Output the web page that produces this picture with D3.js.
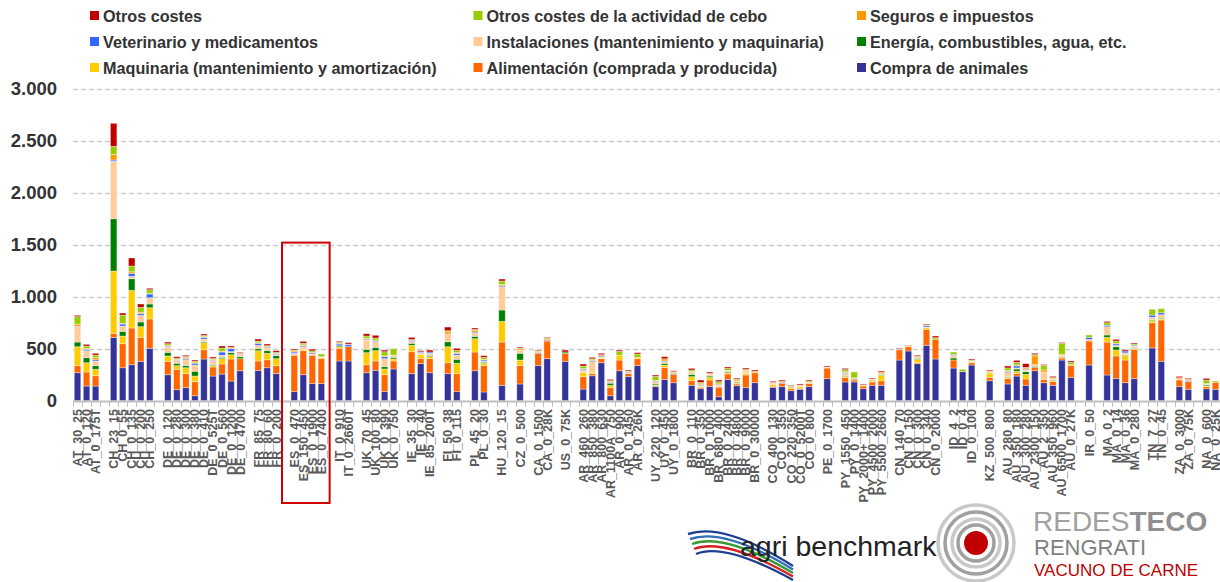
<!DOCTYPE html>
<html>
<head>
<meta charset="utf-8">
<script src="https://cdn.jsdelivr.net/npm/d3@7"></script>
<style>
body { margin: 0; background: #fff; }
svg text { font-family: "Liberation Sans", Arial, sans-serif; }
</style>
</head>
<body>
<svg id="chart" width="1220" height="582"></svg>
<script>
// explotaciones tipo (un hueco entre paises)
var categories = ["AT_30_25","AT_0_120","AT_0_175T",
  "CH_23_15","CH_0_55","CH_0_135","CH_0_200","CH_0_250",
  "DE_0_120","DE_0_280","DE_0_300","DE_0_380","DE_0_410","DE_0_525T","DE_0_560","DE_0_1200","DE_0_4700",
  "FR_85_75","FR_80_60","FR_0_200",
  "ES_0_470","ES_150_450","ES_0_1900","ES_0_7400",
  "IT_0_910","IT_0_2660T",
  "UK_70_45","UK_100_80","UK_0_390","UK_0_750",
  "IE_35_30","IE_0_40","IE_85_200T",
  "FI_50_38","FI_0_115",
  "PL_45_20","PL_0_30",
  "HU_120_15","CZ_0_500",
  "CA_0_1500","CA_0_28K","US_0_75K",
  "AR_460_260","AR_850_380","AR_800_630","AR_1100A_750","AR_0_900","AR_0_1450","AR_0_26K",
  "UY_220_120","UY_0_450","UY_0_1800",
  "BR_0_110","BR_0_350","BR_0_1000","BR_680_400","BR_0_2400","BR_0_4800","BR_0_9000","BR_0_30000",
  "CO_400_130","CO_0_350","CO_220_350","CO_0_5200T","CO_0_800",
  "PE_0_1700",
  "PY_1550_450","PY_0_1400","PY_2000+_1400","PY_4500_2000","PY_5500_2660",
  "CN_140_70","CN_0_150","CN_0_300","CN_0_340","CN_0_2000",
  "ID_4_2","ID_0_4","ID_0_100","KZ_500_800",
  "AU_280_80","AU_350_180","AU_300_280","AU_2300_150","AU_2_350","AU_350_960","AU_6500_1700","AU_0_27K",
  "IR_0_50","MA_0_2","MA_0_14","MA_0_36","MA_0_280",
  "TN_7_27","TN_0_45","ZA_0_3000","ZA_0_75K","NA_0_600","NA_0_25K"];

var compra = [269,141,141, 609,317,346,379,504, 250,106,125,48,401,237,256,189,288, 292,317,260,
  87,250,164,164, 382,382, 269,292,87,305, 260,356,269, 260,87, 288,84, 148,161, 337,404,379,
  112,240,365,48,288,231,337, 135,205,173, 148,115,138,38,205,144,125,173, 129,135,96,110,135, 212,
  180,180,115,148,148, 391,478,356,533,401, 314,279,343,192,
  161,237,148,288,173,148,391,225, 343,247,215,173,212, 507,379,135,110,115,110];
var alimentacion = [68,135,99, 39,231,353,230,282, 129,196,135,135,89,87,97,212,116, 90,77,77,
  350,231,273,240, 122,137, 77,90,163,77, 211,48,135, 105,173, 180,253, 416,179, 119,170,77,
  119,20,39,77,103,32,67, 10,116,80, 44,14,61,91,52,17,122,96, 10,32,19,10,32, 102,
  45,19,26,32,44, 99,41,10,153,189, 77,0,22,33,
  51,26,61,33,32,38,19,112, 231,317,215,218,282, 243,397,64,73,20,67];
var maquinaria = [182,89,62, 599,74,362,103,108, 51,35,57,54,68,15,51,41,0, 99,62,67,
  0,13,0,10, 15,0, 116,99,55,20, 62,38,20, 154,100, 128,23, 199,51, 0,0,0,
  42,15,8,23,46,0,13, 5,22,0, 39,8,26,0,12,10,16,0, 19,0,14,15,0, 0,
  10,0,6,10,52, 0,0,32,16,0, 0,0,8,41,
  12,20,44,0,0,10,6,0, 0,45,57,46,10, 20,10,0,0,8,0];
var energia = [45,49,35, 503,45,112,45,36, 35,23,20,46,10,10,13,20,19, 19,25,29,
  0,0,0,0, 10,0, 32,32,22,15, 19,0,12, 48,38, 23,10, 109,65, 0,0,12,
  0,0,0,19,0,0,0, 11,17,0, 22,0,12,5,10,8,0,0, 0,0,6,0,0, 0,
  8,8,0,6,8, 0,0,10,0,0, 20,0,0,0,
  6,22,26,10,0,6,6,0, 0,23,32,5,6, 8,8,0,0,10,0];
var instalaciones = [147,67,45, 552,51,23,64,60, 51,28,57,60,25,29,20,10,19, 33,26,10,
  19,25,12,9, 0,0, 90,54,77,22, 19,20,20, 74,41, 29,10, 224,31, 0,0,0,
  20,100,10,0,0,8,0, 15,15,0, 20,10,20,17,12,10,19,0, 10,0,0,8,10, 10,
  20,13,0,8,8, 0,0,12,6,0, 25,0,10,12,
  40,10,16,15,71,10,14,0, 15,79,12,18,15, 25,33,12,0,12,0];
var veterinario = [5,13,12, 12,19,29,16,36, 8,5,10,17,16,8,31,28,5, 19,8,8,
  12,10,10,0, 16,19, 8,8,19,0, 10,8,12, 0,15, 10,11, 10,0, 8,8,0,
  10,10,10,8,0,6,0, 8,8,8, 0,8,0,6,0,0,0,0, 0,10,0,0,0, 0,
  8,0,0,0,0, 5,0,0,13,0, 8,0,0,0,
  10,20,8,0,0,0,0,0, 20,14,15,18,8, 20,19,0,8,0,0];
var seguros = [20,8,20, 55,8,15,13,8, 8,5,13,5,8,10,8,8,5, 8,6,6,
  10,8,5,0, 8,6, 8,8,8,0, 8,0,0, 20,10, 15,8, 12,12, 8,11,0,
  8,8,10,10,0,8,0, 10,20,10, 8,8,8,6,0,10,8,8, 8,12,0,0,0, 0,
  10,0,6,6,15, 5,6,7,8,0, 0,0,0,8,
  10,8,12,85,20,10,10,10, 0,0,6,0,0, 0,0,10,8,0,0];
var otrosCebo = [72,24,25, 77,79,55,48,33, 16,10,8,14,10,10,31,5,4, 14,8,8,
  8,15,15,26, 8,0, 22,20,40,61, 0,0,0, 12,20, 12,18, 33,7, 8,8,0,
  23,10,0,8,38,0,32, 41,0,8, 14,12,0,20,20,10,12,6, 0,0,6,8,12, 0,
  18,56,0,0,0, 0,4,0,0,16, 24,23,8,0,
  25,25,6,12,44,0,106,22, 23,25,22,0,12, 56,39,0,6,34,12];
var otros = [13,16,17, 221,19,77,32,14, 16,15,12,12,14,14,19,13,9, 19,16,16,
  11,19,17,0, 10,14, 22,26,16,0, 20,11,19, 35,20, 14,16, 19,10, 7,8,19,
  19,14,14,12,12,10,13, 12,20,9, 16,24,11,16,13,9,12,12, 10,10,7,10,10, 10,
  12,0,8,8,10, 7,4,10,8,16, 0,0,10,9,
  19,20,35,13,8,12,8,13, 0,13,16,12,10, 0,0,13,10,16,0];

var keys = ["compra","alimentacion","maquinaria","energia","instalaciones","veterinario","seguros","otrosCebo","otros"];
var seriesData = [compra, alimentacion, maquinaria, energia, instalaciones, veterinario, seguros, otrosCebo, otros];
var colors = ["#333399","#FF6600","#FFCC00","#008000","#FFCC99","#3366FF","#FF9900","#99CC00","#C00000"];
var labels = ["Compra de animales","Alimentación (comprada y producida)","Maquinaria (mantenimiento y amortización)",
  "Energía, combustibles, agua, etc.","Instalaciones (mantenimiento y maquinaria)","Veterinario y medicamentos",
  "Seguros e impuestos","Otros costes de la actividad de cebo","Otros costes"];
var yTicks = [0,500,1000,1500,2000,2500,3000];
var highlight = ["ES_0_470","ES_0_7400"];

var svg = d3.select("#chart");

// slot de cada barra, dejando un hueco cuando cambia el pais
var slots = [], s = -1, prev = null;
categories.forEach(function (c) {
    var cc = c.split("_")[0];
    if (prev !== null && cc !== prev) s++;
    s++;
    slots.push(s);
    prev = cc;
});
var nSlots = s + 1;

var x = d3.scaleBand().domain(d3.range(nSlots)).range([73, 1220]).paddingInner(0.28).paddingOuter(0.14);
var y = d3.scaleLinear().domain([0, 3000]).range([400.7, 88.7]);

var rows = categories.map(function (c, i) {
    var r = {cat: c, slot: slots[i]};
    keys.forEach(function (k, j) { r[k] = seriesData[j][i]; });
    return r;
});

// rejilla
svg.append("g").selectAll("line").data(yTicks.slice(1)).enter().append("line")
    .attr("x1", 73).attr("x2", 1220)
    .attr("y1", function (d) { return Math.round(y(d)) + 0.5; })
    .attr("y2", function (d) { return Math.round(y(d)) + 0.5; })
    .style("stroke", "#CCCCCC").style("stroke-width", 1.6).style("stroke-dasharray", "5,3");

var yAxis = svg.append("g").attr("transform", "translate(73,0)")
    .call(d3.axisLeft(y).tickValues(yTicks).tickSize(0).tickPadding(16)
        .tickFormat(function (d) { return d3.format(",")(d).replace(",", "."); }));
yAxis.select(".domain").remove();
yAxis.selectAll("text").style("font-size", "18.5px").style("font-weight", "bold").style("fill", "#333")
    .style("font-family", "'Liberation Sans', Arial, sans-serif");

// barras apiladas
var stack = d3.stack().keys(keys)(rows);
svg.append("g").selectAll("g").data(stack).enter().append("g")
    .style("fill", function (d, i) { return colors[i]; })
    .selectAll("rect").data(function (d) { return d; }).enter().append("rect")
    .attr("x", function (d) { return x(d.data.slot); })
    .attr("width", x.bandwidth())
    .attr("y", function (d) { return y(d[1]); })
    .attr("height", function (d) { return y(d[0]) - y(d[1]); })
    .style("stroke", "rgba(255,255,255,0.45)").style("stroke-width", 0.8);

// eje x
var xAxis = svg.append("g").attr("transform", "translate(0,401)");
xAxis.append("line").attr("x1", 73).attr("x2", 1220).attr("y1", 0.5).attr("y2", 0.5)
    .style("stroke", "#BFBFBF").style("stroke-width", 2);
xAxis.selectAll("line.tick").data(d3.range(nSlots + 1)).enter().append("line")
    .attr("x1", function (d) { return Math.round(73 + d * x.step()) + 0.5; })
    .attr("x2", function (d) { return Math.round(73 + d * x.step()) + 0.5; })
    .attr("y1", 0).attr("y2", 6).style("stroke", "#BFBFBF");
xAxis.selectAll("text").data(rows).enter().append("text")
    .attr("transform", function (d) {
        return "translate(" + (x(d.slot) + x.bandwidth() / 2 + 4.5) + ",8) rotate(-90)";
    })
    .attr("text-anchor", "end")
    .style("font-size", "12.5px").style("font-weight", "bold").style("fill", "#595959")
    .text(function (d) { return d.cat; });

// recuadro ES
var i0 = categories.indexOf(highlight[0]), i1 = categories.indexOf(highlight[1]);
svg.append("rect")
    .attr("x", x(slots[i0]) - 9).attr("y", y(1520))
    .attr("width", x(slots[i1]) + x.bandwidth() + 5 - (x(slots[i0]) - 9))
    .attr("height", 503 - y(1520))
    .style("fill", "none").style("stroke", "#CC0000").style("stroke-width", 2);

// leyenda (3 columnas)
var legendOrder = [8, 7, 6, 5, 4, 3, 2, 1, 0];
var lg = svg.append("g").selectAll("g").data(legendOrder).enter().append("g")
    .attr("transform", function (d, i) {
        return "translate(" + [90 + (i % 3) * 383.5, 16 + Math.floor(i / 3) * 26] + ")";
    });
lg.append("rect").attr("x", 0).attr("y", -5).attr("width", 9).attr("height", 9)
    .style("fill", function (d) { return colors[d]; });
lg.append("text").attr("x", 13).attr("y", 5.5)
    .style("font-size", "16.2px").style("font-weight", "bold").style("fill", "#333")
    .text(function (d) { return labels[d]; });

// logos
var logo = svg.append("g");
var sw = ["#1F3F8F", "#2E6FB7", "#3A9A3A", "#D42020", "#1F3F8F"];
sw.forEach(function (c, i) {
    logo.append("path")
        .attr("d", "M" + (688 + i * 2) + "," + (534 + i * 5) + " Q" + 724 + "," + (522 + i * 5) + " " + 793 + "," + (566 + i * 3.5))
        .style("fill", "none").style("stroke", c).style("stroke-width", 2.4);
});
logo.append("text").attr("x", 740).attr("y", 556).style("font-size", "28.5px").style("fill", "#222")
    .text("agri benchmark");
[38, 31, 24, 18].forEach(function (r, i) {
    logo.append("circle").attr("cx", 976).attr("cy", 543).attr("r", r)
        .style("fill", "none").style("stroke", i % 2 ? "#a0a0a0" : "#c8c8c8").style("stroke-width", 3.5);
});
logo.append("circle").attr("cx", 976).attr("cy", 543).attr("r", 12).style("fill", "#C00000");
var t = logo.append("text").attr("x", 1033).attr("y", 531).style("font-size", "28px").style("fill", "#A0A0A0");
t.append("tspan").text("REDES");
t.append("tspan").style("font-weight", "bold").style("fill", "#909090").text("TECO");
logo.append("text").attr("x", 1034).attr("y", 555).style("font-size", "22px").style("fill", "#808080").text("RENGRATI");
logo.append("text").attr("x", 1034).attr("y", 576).style("font-size", "17px").style("fill", "#C00000").text("VACUNO DE CARNE");
</script>
</body>
</html>
